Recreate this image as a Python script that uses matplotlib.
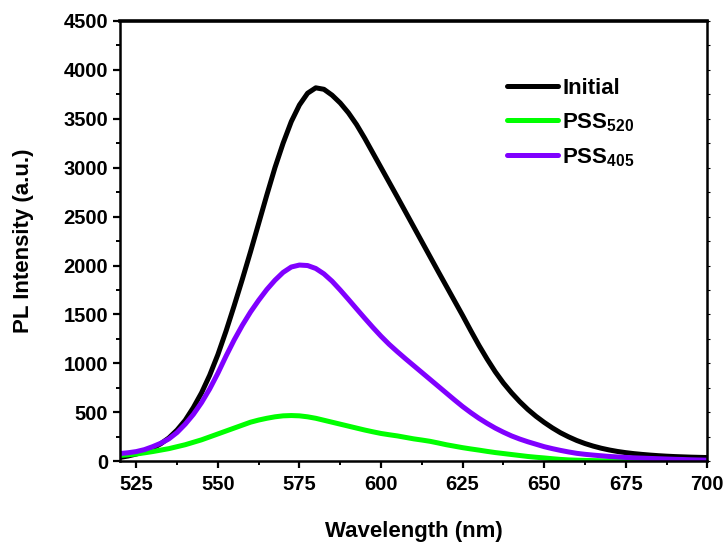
import numpy as np
import matplotlib.pyplot as plt
from matplotlib.ticker import MultipleLocator

plt.rcParams['font.family'] = ['Liberation Sans', 'DejaVu Sans']
plt.rcParams['font.weight'] = 'bold'
plt.rcParams['mathtext.fontset'] = 'custom'
plt.rcParams['mathtext.bf'] = 'Liberation Sans:bold'
plt.rcParams['mathtext.rm'] = 'Liberation Sans:bold'

# Wellenlaengen (nm), alle 2.5 nm von 520 bis 700
wavelength = np.arange(520, 700.1, 2.5)

initial = [40, 55, 75, 100, 135, 180, 240, 320,
           420, 550, 700, 880, 1090, 1330, 1590, 1860,
           2140, 2430, 2720, 3000, 3250, 3470, 3640, 3760,
           3815, 3800, 3740, 3660, 3560, 3440, 3300, 3150,
           3000, 2850, 2700, 2548, 2396, 2244, 2092, 1940,
           1790, 1640, 1490, 1335, 1185, 1045, 915, 800,
           700, 610, 530, 460, 398, 342, 292, 250,
           213, 182, 156, 134, 116, 101, 89, 79,
           71, 64, 58, 53, 49, 46, 43, 41,
           39]
pss520 = [60, 67, 75, 87, 100, 115, 130, 150,
          170, 195, 220, 250, 280, 310, 340, 370,
          400, 422, 440, 455, 465, 468, 465, 455,
          440, 420, 400, 380, 360, 340, 320, 302,
          285, 272, 260, 245, 230, 218, 205, 188,
          170, 155, 140, 127, 115, 102, 90, 80,
          70, 60, 50, 42, 35, 27, 20, 15,
          12, 10, 8, 6, 5, 4, 3, 2,
          2, 1, 1, 1, 1, 0, 0, 0,
          0]
pss405 = [80, 88, 100, 120, 150, 185, 230, 295,
          380, 480, 600, 740, 900, 1075, 1240, 1390,
          1525, 1645, 1755, 1850, 1930, 1985, 2005, 2000,
          1970, 1915, 1840, 1750, 1655, 1558, 1462, 1368,
          1278, 1195, 1120, 1048, 978, 908, 838, 768,
          698, 628, 560, 498, 440, 388, 340, 298,
          260, 228, 200, 175, 150, 130, 112, 96,
          82, 72, 64, 57, 50, 45, 40, 36,
          33, 30, 27, 24, 21, 19, 16, 14,
          12]

fig = plt.figure(figsize=(7.27, 5.46), dpi=100)
ax = fig.add_axes([0.165, 0.155, 0.808, 0.807])

kw = dict(lw=3.6, solid_capstyle='round', solid_joinstyle='round')
ax.plot(wavelength, initial, color='black', label='Initial', **kw)
ax.plot(wavelength, pss520, color='#00ff00', label='PSS$_{\\mathbf{520}}$', **kw)
ax.plot(wavelength, pss405, color='#8000ff', label='PSS$_{\\mathbf{405}}$', **kw)

ax.set_xlim(520, 700)
ax.set_ylim(0, 4500)
ax.set_xticks([525, 550, 575, 600, 625, 650, 675, 700])
ax.xaxis.set_minor_locator(MultipleLocator(12.5))
ax.yaxis.set_major_locator(MultipleLocator(500))
ax.yaxis.set_minor_locator(MultipleLocator(250))

ax.tick_params(which='major', direction='out', length=5, width=1.6, labelsize=14.5)
ax.tick_params(which='minor', direction='out', length=3, width=1.4)
ax.tick_params(axis='x', pad=5)
ax.tick_params(axis='y', which='both', right=True, labelright=False)
# kleine Striche rechts
for t in ax.yaxis.get_major_ticks() + ax.yaxis.get_minor_ticks():
    t.tick2line.set_markersize(2)
    t.tick2line.set_markeredgewidth(0.8)
for lab in ax.get_xticklabels() + ax.get_yticklabels():
    lab.set_fontweight('bold')

for side in ['left', 'bottom', 'right']:
    ax.spines[side].set_linewidth(1.8)
ax.spines['top'].set_linewidth(2.6)

ax.set_xlabel('Wavelength (nm)', fontsize=16, fontweight='bold', labelpad=19)
ax.set_ylabel('PL Intensity (a.u.)', fontsize=16, fontweight='bold', labelpad=21)

leg = ax.legend(loc='upper left', bbox_to_anchor=(0.659, 0.87), frameon=False,
                fontsize=16, handlelength=2.3, handletextpad=0.18,
                labelspacing=0.55, borderpad=0, borderaxespad=0)
for t in leg.get_texts():
    t.set_fontweight('bold')

fig.savefig('out.png', dpi=100)
